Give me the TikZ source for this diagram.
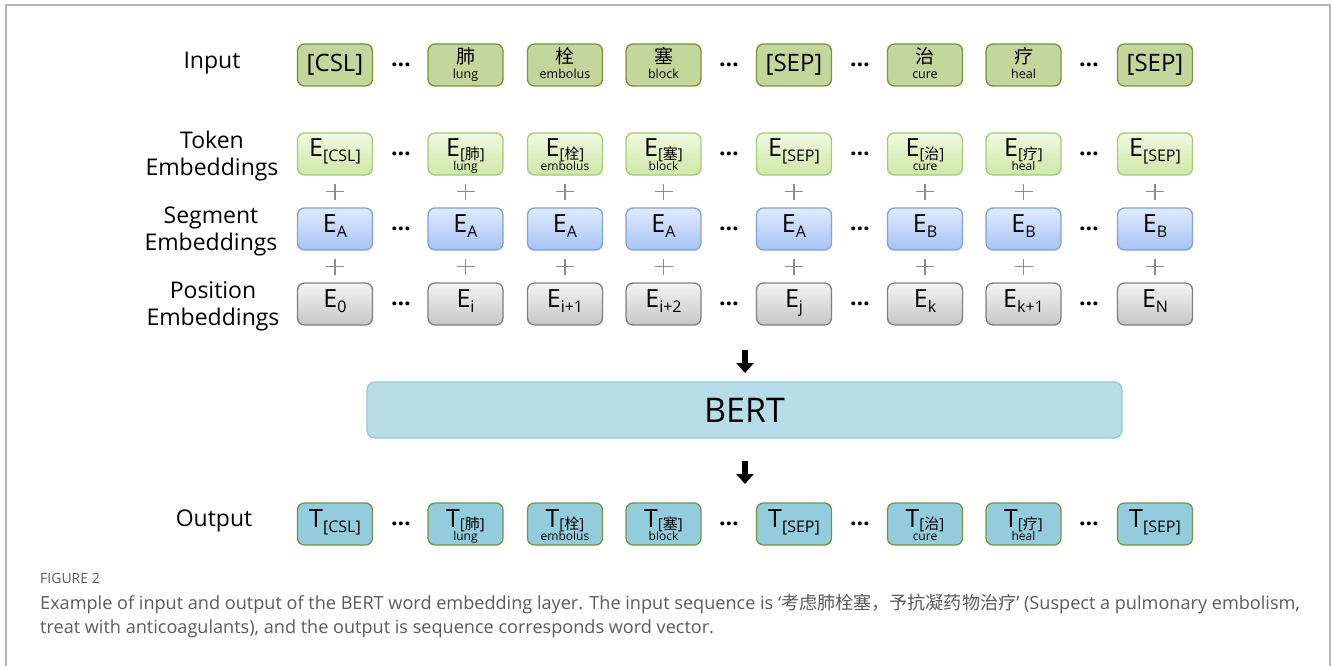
\documentclass[tikz,border=0pt]{standalone}
\usepackage{fontspec}
\setmainfont{Open Sans}
\newfontfamily\cjk{Noto Sans CJK SC}
\usetikzlibrary{arrows.meta,calc}
\definecolor{inFill}{HTML}{C3D69B}
\definecolor{inDraw}{HTML}{77933C}
\definecolor{tokTop}{HTML}{F0F9E0}
\definecolor{tokBot}{HTML}{CDE8A6}
\definecolor{tokDraw}{HTML}{A6C97A}
\definecolor{segTop}{HTML}{E0EBFC}
\definecolor{segBot}{HTML}{A6C3F3}
\definecolor{segDraw}{HTML}{7FA2DA}
\definecolor{posTop}{HTML}{F4F4F4}
\definecolor{posBot}{HTML}{C6C6C6}
\definecolor{posDraw}{HTML}{7F7F7F}
\definecolor{bertFill}{HTML}{B7DDE8}
\definecolor{bertDraw}{HTML}{92C8D8}
\definecolor{outFill}{HTML}{93CDDD}
\definecolor{frameCol}{HTML}{B4B4B4}
\definecolor{capCol}{HTML}{5A5A5A}
\definecolor{plusCol}{HTML}{8C8C8C}
\newcommand{\sbs}[1]{\raisebox{-5pt}{\fontsize{16}{16}\selectfont #1}}
\newcommand{\sbc}[1]{\raisebox{-2.5pt}{\fontsize{15}{15}\selectfont [{\cjk #1}]}}
\begin{document}
\begin{tikzpicture}[x=1pt,y=-1pt,
  box/.style={rounded corners=7pt, minimum width=75pt, minimum height=42pt, inner sep=0pt, line width=1.3pt},
  inbox/.style={box, fill=inFill, draw=inDraw, font=\fontsize{24}{24}\selectfont},
  incjk/.style={inbox, font=\fontsize{19}{19}\selectfont, text height=20pt, text depth=22pt},
  ebox/.style={box, font=\fontsize{25}{25}\selectfont, text height=24pt, text depth=18pt},
  tokbox/.style={ebox, top color=tokTop, bottom color=tokBot, draw=tokDraw},
  segbox/.style={ebox, top color=segTop, bottom color=segBot, draw=segDraw},
  posbox/.style={ebox, top color=posTop, bottom color=posBot, draw=posDraw},
  outbox/.style={ebox, fill=outFill, draw=inDraw},
  glin/.style={anchor=base, inner sep=0pt, font=\fontsize{12.5}{12.5}\selectfont},
  gle/.style={anchor=base, inner sep=0pt, font=\fontsize{12}{12}\selectfont},
  dots/.style={inner sep=0pt, font=\bfseries\fontsize{23}{23}\selectfont},
  lab/.style={align=center, inner sep=0pt, font=\fontsize{23}{27}\selectfont},
  bert/.style={rounded corners=8pt, minimum width=755pt, minimum height=56pt, fill=bertFill, draw=bertDraw, line width=1.3pt, font=\fontsize{34}{34}\selectfont},
  blockarrow/.style={line width=6.5pt, -{Triangle[width=17pt,length=10pt]}},
  plusl/.style={draw=plusCol, line width=1.1pt},
  frame/.style={draw=frameCol, line width=1.6pt},
  capfig/.style={anchor=base west, inner sep=0pt, text=capCol, font=\fontsize{14}{14}\selectfont},
  captext/.style={anchor=base west, inner sep=0pt, text=capCol, font=\fontsize{18.1}{18}\selectfont}
]
\useasboundingbox (0,0) rectangle (1333,666);
\draw[frame] (6,666) -- (6,5) -- (1330,5) -- (1330,666);

% row labels
\node[lab] (lin) at (212,63) {Input};
\node[lab] (ltok) at (212,156) {Token\\Embeddings};
\node[lab] (lseg) at (211,231) {Segment\\Embeddings};
\node[lab] (lpos) at (213,306) {Position\\Embeddings};
\node[lab] (lout) at (214,521) {Output};

% input row
\node[inbox] (i1) at (335,65) {[CSL]};
\node[incjk] (i2) at (465.5,65) {\cjk 肺};
\node[incjk] (i3) at (565,65) {\cjk 栓};
\node[incjk] (i4) at (663.5,65) {\cjk 塞};
\node[inbox] (i5) at (794,65) {[SEP]};
\node[incjk] (i6) at (925,65) {\cjk 治};
\node[incjk] (i7) at (1023.5,65) {\cjk 疗};
\node[inbox] (i8) at (1155,65) {[SEP]};
\node[glin] (gi2) at ($(i2.south)+(0,-8)$) {lung};
\node[glin] (gi3) at ($(i3.south)+(0,-8)$) {embolus};
\node[glin] (gi4) at ($(i4.south)+(0,-8)$) {block};
\node[glin] (gi6) at ($(i6.south)+(0,-8)$) {cure};
\node[glin] (gi7) at ($(i7.south)+(0,-8)$) {heal};

% token row
\node[tokbox] (t1) at (335,154) {E\sbs{[CSL]}};
\node[tokbox] (t2) at (465.5,154) {E\sbc{肺}};
\node[tokbox] (t3) at (565,154) {E\sbc{栓}};
\node[tokbox] (t4) at (663.5,154) {E\sbc{塞}};
\node[tokbox] (t5) at (794,154) {E\sbs{[SEP]}};
\node[tokbox] (t6) at (925,154) {E\sbc{治}};
\node[tokbox] (t7) at (1023.5,154) {E\sbc{疗}};
\node[tokbox] (t8) at (1155,154) {E\sbs{[SEP]}};
\node[gle] (gt2) at ($(t2.south)+(0,-5)$) {lung};
\node[gle] (gt3) at ($(t3.south)+(0,-5)$) {embolus};
\node[gle] (gt4) at ($(t4.south)+(0,-5)$) {block};
\node[gle] (gt6) at ($(t6.south)+(0,-5)$) {cure};
\node[gle] (gt7) at ($(t7.south)+(0,-5)$) {heal};

% segment row
\node[segbox] (s1) at (335,229) {E\sbs{A}};
\node[segbox] (s2) at (465.5,229) {E\sbs{A}};
\node[segbox] (s3) at (565,229) {E\sbs{A}};
\node[segbox] (s4) at (663.5,229) {E\sbs{A}};
\node[segbox] (s5) at (794,229) {E\sbs{A}};
\node[segbox] (s6) at (925,229) {E\sbs{B}};
\node[segbox] (s7) at (1023.5,229) {E\sbs{B}};
\node[segbox] (s8) at (1155,229) {E\sbs{B}};

% position row
\node[posbox] (p1) at (335,304) {E\sbs{0}};
\node[posbox] (p2) at (465.5,304) {E\sbs{i}};
\node[posbox] (p3) at (565,304) {E\sbs{i+1}};
\node[posbox] (p4) at (663.5,304) {E\sbs{i+2}};
\node[posbox] (p5) at (794,304) {E\sbs{j}};
\node[posbox] (p6) at (925,304) {E\sbs{k}};
\node[posbox] (p7) at (1023.5,304) {E\sbs{k+1}};
\node[posbox] (p8) at (1155,304) {E\sbs{N}};

% plus signs
\foreach \c in {1,...,8}{
  \coordinate (pa\c) at ($(t\c.south)!0.5!(s\c.north)$);
  \coordinate (pb\c) at ($(s\c.south)!0.5!(p\c.north)$);
  \draw[plusl] ($(pa\c)+(-9,0)$) -- ($(pa\c)+(9,0)$) ($(pa\c)+(0,-8)$) -- ($(pa\c)+(0,8)$);
  \draw[plusl] ($(pb\c)+(-9,0)$) -- ($(pb\c)+(9,0)$) ($(pb\c)+(0,-8)$) -- ($(pb\c)+(0,8)$);
}

% dots
\foreach \r/\y in {a/65,b/154,c/229,d/304,e/524}{
  \node[dots] (d1\r) at (401,\y) {…};
  \node[dots] (d2\r) at (729,\y) {…};
  \node[dots] (d3\r) at (860,\y) {…};
  \node[dots] (d4\r) at (1089,\y) {…};
}

% BERT
\node[bert] (bert) at (744.5,410) {BERT};
\coordinate (a1s) at (745,350);
\coordinate (a1e) at (745,373);
\coordinate (a2s) at (745,461);
\coordinate (a2e) at (745,484);
\draw[blockarrow] (a1s) -- (a1e);
\draw[blockarrow] (a2s) -- (a2e);

% output row
\node[outbox] (o1) at (335,524) {T\sbs{[CSL]}};
\node[outbox] (o2) at (465.5,524) {T\sbc{肺}};
\node[outbox] (o3) at (565,524) {T\sbc{栓}};
\node[outbox] (o4) at (663.5,524) {T\sbc{塞}};
\node[outbox] (o5) at (794,524) {T\sbs{[SEP]}};
\node[outbox] (o6) at (925,524) {T\sbc{治}};
\node[outbox] (o7) at (1023.5,524) {T\sbc{疗}};
\node[outbox] (o8) at (1155,524) {T\sbs{[SEP]}};
\node[gle] (go2) at ($(o2.south)+(0,-5)$) {lung};
\node[gle] (go3) at ($(o3.south)+(0,-5)$) {embolus};
\node[gle] (go4) at ($(o4.south)+(0,-5)$) {block};
\node[gle] (go6) at ($(o6.south)+(0,-5)$) {cure};
\node[gle] (go7) at ($(o7.south)+(0,-5)$) {heal};

% caption
\node[capfig] (fig) at (40,583) {FIGURE 2};
\node[captext] (cap1) at (40,609) {Example of input and output of the BERT word embedding layer. The input sequence is ‘{\cjk 考虑肺栓塞，予抗凝药物治疗}’ (Suspect a pulmonary embolism,};
\node[captext] (cap2) at (40,633) {treat with anticoagulants), and the output is sequence corresponds word vector.};
\end{tikzpicture}
\end{document}
